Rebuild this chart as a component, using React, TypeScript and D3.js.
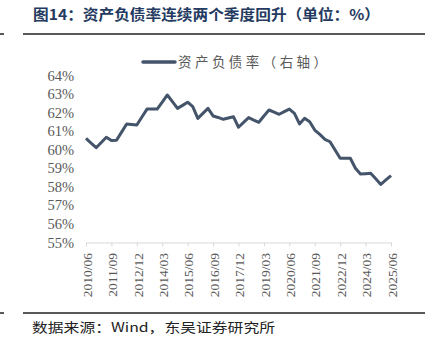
import React from 'react';
import * as d3 from 'd3';

// quarterly, 2010/06 .. 2025/06
const quarters: string[] = [];
for (let y = 2010; y <= 2025; y++) {
  for (const m of ['03', '06', '09', '12']) {
    const q = `${y}/${m}`;
    if (q >= '2010/06' && q <= '2025/06') quarters.push(q);
  }
}

const debtRatio = [
  60.61, 60.36, 60.11, 60.39, 60.67, 60.5, 60.51, 60.95, 61.39, 61.36,
  61.33, 61.76, 62.19, 62.19, 62.19, 62.57, 62.95, 62.59, 62.23, 62.39,
  62.56, 62.32, 61.69, 61.96, 62.23, 61.82, 61.74, 61.64, 61.71, 61.78,
  61.21, 61.47, 61.73, 61.6, 61.48, 61.82, 62.14, 62.03, 61.91, 62.05,
  62.19, 61.96, 61.39, 61.69, 61.51, 61.06, 60.83, 60.56, 60.43, 59.98,
  59.54, 59.54, 59.54, 59.0, 58.69, 58.71, 58.73, 58.43, 58.13, 58.37,
  58.6,
];

const tickLabels = [
  '2010/06', '2011/09', '2012/12', '2014/03', '2015/06', '2016/09', '2017/12',
  '2019/03', '2020/06', '2021/09', '2022/12', '2024/03', '2025/06',
];
const yTicks = [55, 56, 57, 58, 59, 60, 61, 62, 63, 64];

const title = '图14：资产负债率连续两个季度回升（单位：%）';
const legendLabel = '资产负债率（右轴）';
const source = '数据来源：Wind，东吴证券研究所';

const cjk = '"Noto Sans CJK SC", "Noto Sans", sans-serif';
const serif = '"Liberation Serif", "DejaVu Serif", serif';

function App() {
  const svgRef = React.useRef<SVGSVGElement>(null);
  const width = 433;
  const height = 352;

  React.useEffect(() => {
    document.body.style.margin = '0';
    const svg = d3.select(svgRef.current);
    svg.selectAll('*').remove();

    const x = d3.scalePoint<string>().domain(quarters).range([86, 391]);
    const y = d3.scaleLinear().domain([55, 64]).range([242.5, 75.5]);

    // title + rules
    svg
      .append('text')
      .attr('x', 33)
      .attr('y', 20)
      .attr('font-family', cjk)
      .attr('font-weight', 'bold')
      .attr('font-size', 14.5)
      .attr('fill', '#243a60')
      .attr('textLength', 347)
      .attr('lengthAdjust', 'spacingAndGlyphs')
      .text(title);

    [34, 313].forEach((ry) => {
      svg.append('line').attr('x1', 23).attr('x2', 425).attr('y1', ry).attr('y2', ry)
        .attr('stroke', '#222').attr('stroke-width', 1.5);
      svg.append('line').attr('x1', 0).attr('x2', 4).attr('y1', ry).attr('y2', ry)
        .attr('stroke', '#222').attr('stroke-width', 1.5);
    });

    svg
      .append('text')
      .attr('x', 32)
      .attr('y', 332)
      .attr('font-family', cjk)
      .attr('font-size', 13)
      .attr('fill', '#222')
      .attr('textLength', 243)
      .attr('lengthAdjust', 'spacingAndGlyphs')
      .text(source);

    // legend
    svg.append('line').attr('x1', 143).attr('x2', 175).attr('y1', 62).attr('y2', 62)
      .attr('stroke', '#44546a').attr('stroke-width', 3.5).attr('stroke-linecap', 'round');
    svg
      .append('text')
      .attr('x', 178)
      .attr('y', 62)
      .attr('dy', '0.35em')
      .attr('font-family', cjk)
      .attr('font-size', 13.5)
      .attr('fill', '#595959')
      .attr('textLength', 149)
      .attr('lengthAdjust', 'spacing')
      .text(legendLabel);

    // y axis labels
    svg
      .selectAll('.ytick')
      .data(yTicks)
      .enter()
      .append('text')
      .attr('x', 74)
      .attr('y', (d) => y(d))
      .attr('dy', '0.35em')
      .attr('text-anchor', 'end')
      .attr('font-family', serif)
      .attr('font-size', 14.5)
      .attr('fill', '#595959')
      .text((d) => `${d}%`);

    // x axis
    const xAxis = svg
      .append('g')
      .attr('transform', `translate(0, ${y(55)})`)
      .call(d3.axisBottom(x).tickValues(tickLabels).tickSize(4).tickSizeOuter(0).tickFormat(() => ''));
    xAxis.select('.domain').attr('stroke', '#d9d9d9');
    xAxis.selectAll('.tick line').attr('stroke', '#d9d9d9');

    svg
      .selectAll('.xlabel')
      .data(tickLabels)
      .enter()
      .append('text')
      .attr('transform', (d) => `translate(${(x(d) as number) + 1}, 253) rotate(-90)`)
      .attr('dy', '0.35em')
      .attr('text-anchor', 'end')
      .attr('font-family', serif)
      .attr('font-size', 13.5)
      .attr('fill', '#595959')
      .text((d) => d);

    // series
    const line = d3
      .line<number>()
      .x((d, i) => x(quarters[i]) as number)
      .y((d) => y(d));

    svg
      .append('path')
      .datum(debtRatio)
      .attr('d', line)
      .attr('fill', 'none')
      .attr('stroke', '#44546a')
      .attr('stroke-width', 3)
      .attr('stroke-linejoin', 'round');
  }, []);

  return (
    <svg
      ref={svgRef}
      width={width}
      height={height}
      style={{ display: 'block', background: '#fff' }}
    ></svg>
  );
}

export default App;
